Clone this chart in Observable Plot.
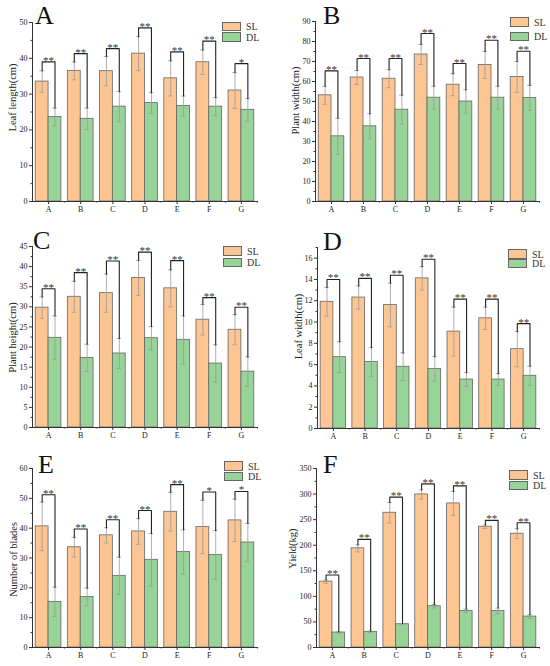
<!DOCTYPE html>
<html><head><meta charset="utf-8">
<script src="https://cdn.jsdelivr.net/npm/d3@7"></script>
<script src="https://cdn.jsdelivr.net/npm/@observablehq/plot@0.6"></script>
<style>
body{margin:0;background:#fff;}
#fig{position:relative;width:550px;height:666px;font-family:"Liberation Serif",serif;overflow:hidden;}
.panel{position:absolute;width:275px;height:222px;}
.panel svg{position:absolute;left:0;top:0;}
.letter{position:absolute;font-size:26px;line-height:26px;color:#111;}
.sw{position:absolute;width:19px;box-sizing:border-box;border:1px solid #666;}
.lt{position:absolute;font-size:10px;line-height:10px;color:#333;}
</style></head><body><div id="fig"></div>
<script>
const categories = ["A","B","C","D","E","F","G"];
const seriesNames = ["SL","DL"];
const SL_COLOR = "#fcc592";
const DL_COLOR = "#98d398";

// Panel A: Leaf length
const leafLengthSL = [33.5, 36.5, 36.4, 41.3, 34.4, 38.9, 31.0];
const leafLengthSLsd = [3.0, 2.5, 4.1, 4.75, 4.9, 3.4, 5.0];
const leafLengthDL = [23.6, 23.1, 26.5, 27.5, 26.7, 26.5, 25.6];
const leafLengthDLsd = [2.5, 3.0, 4.2, 2.9, 2.75, 2.5, 3.15];
const leafLengthBracket = [39.0, 41.3, 42.7, 48.5, 41.8, 44.8, 38.5];
const leafLengthSig = ["**","**","**","**","**","**","*"];
const leafLengthTicks = [0, 10, 20, 30, 40, 50];

// Panel B: Plant width
const plantWidthSL = [53.1, 62.0, 61.4, 73.5, 58.4, 68.3, 62.3];
const plantWidthSLsd = [4.5, 3.5, 4.5, 5.0, 5.5, 6.75, 7.75];
const plantWidthDL = [32.6, 37.6, 45.9, 51.9, 50.0, 51.9, 51.8];
const plantWidthDLsd = [9.0, 6.25, 7.25, 5.75, 5.85, 5.75, 6.25];
const plantWidthBracket = [65.3, 71.5, 71.5, 84.0, 69.0, 80.6, 75.1];
const plantWidthSig = ["**","**","**","**","**","**","**"];
const plantWidthTicks = [0, 10, 20, 30, 40, 50, 60, 70, 80, 90];

// Panel C: Plant height
const plantHeightSL = [29.8, 32.5, 33.4, 37.2, 34.6, 26.8, 24.3];
const plantHeightSLsd = [2.65, 3.85, 4.75, 4.35, 4.6, 3.8, 3.75];
const plantHeightDL = [22.3, 17.3, 18.4, 22.2, 21.8, 15.9, 13.9];
const plantHeightDLsd = [5.45, 3.4, 3.75, 2.9, 5.95, 4.65, 3.65];
const plantHeightBracket = [34.5, 38.5, 41.4, 43.6, 41.5, 32.3, 29.9];
const plantHeightSig = ["**","**","**","**","**","**","**"];
const plantHeightTicks = [0, 5, 10, 15, 20, 25, 30, 35, 40, 45];

// Panel D: Leaf width
const leafWidthSL = [11.9, 12.3, 11.6, 14.1, 9.1, 10.35, 7.45];
const leafWidthSLsd = [1.35, 1.1, 2.05, 1.1, 2.3, 1.05, 1.65];
const leafWidthDL = [6.7, 6.25, 5.8, 5.6, 4.6, 4.6, 4.95];
const leafWidthDLsd = [1.45, 1.35, 1.3, 1.15, 0.65, 0.55, 0.9];
const leafWidthBracket = [14.0, 14.1, 14.4, 15.9, 12.15, 12.15, 9.85];
const leafWidthSig = ["**","**","**","**","**","**","**"];
const leafWidthTicks = [0, 2, 4, 6, 8, 10, 12, 14, 16];

// Panel E: Number of blades
const bladesSL = [40.6, 33.6, 37.6, 38.9, 45.5, 40.4, 42.6];
const bladesSLsd = [8.15, 3.3, 2.55, 4.3, 6.5, 8.95, 7.1];
const bladesDL = [15.3, 16.9, 24.0, 29.4, 32.0, 31.0, 35.2];
const bladesDLsd = [4.9, 3.0, 6.25, 8.8, 7.45, 8.2, 6.4];
const bladesBracket = [51.2, 39.7, 42.8, 45.9, 54.6, 52.1, 52.3];
const bladesSig = ["**","**","**","**","**","*","*"];
const bladesTicks = [0, 10, 20, 30, 40, 50, 60];

// Panel F: Yield
const yieldSL = [128.8, 193.9, 263.5, 299.3, 281.7, 236.2, 222.5];
const yieldSLsd = [3, 7, 20, 9, 23.5, 3.5, 9.5];
const yieldDL = [29.3, 30.6, 45.5, 80.7, 71.6, 71.6, 60.5];
const yieldDLsd = [1.5, 1.5, 1.5, 3.5, 3.5, 5.5, 3.5];
const yieldBracket = [141.8, 211.5, 294, 320, 316, 248.5, 244];
const yieldSig = ["**","**","**","**","**","**","**"];
const yieldTicks = [0, 50, 100, 150, 200, 250, 300, 350];

const panels = [
  {letter:"A", label:"Leaf length(cm)", sl:leafLengthSL, slsd:leafLengthSLsd, dl:leafLengthDL, dlsd:leafLengthDLsd, br:leafLengthBracket, sig:leafLengthSig, ticks:leafLengthTicks, max:50,
   left:0, top:0, ml:32, mr:18, mt:22, mb:21, lx:12, ly:97, letX:35, letY:3, legX:222, legY:21.7, legGap:1},
  {letter:"B", label:"Plant width(cm)", sl:plantWidthSL, slsd:plantWidthSLsd, dl:plantWidthDL, dldsd:null, dlsd:plantWidthDLsd, br:plantWidthBracket, sig:plantWidthSig, ticks:plantWidthTicks, max:90,
   left:275, top:0, ml:40, mr:11, mt:21, mb:21, lx:20, ly:100, letX:48, letY:3, legX:235, legY:17, legGap:5},
  {letter:"C", label:"Plant height(cm)", sl:plantHeightSL, slsd:plantHeightSLsd, dl:plantHeightDL, dlsd:plantHeightDLsd, br:plantHeightBracket, sig:plantHeightSig, ticks:plantHeightTicks, max:45,
   left:0, top:222, ml:32, mr:18, mt:24, mb:17, lx:12, ly:115, letX:33, letY:6, legX:223, legY:24, legGap:2},
  {letter:"D", label:"Leaf width(cm)", sl:leafWidthSL, slsd:leafWidthSLsd, dl:leafWidthDL, dlsd:leafWidthDLsd, br:leafWidthBracket, sig:leafWidthSig, ticks:leafWidthTicks, max:17,
   left:275, top:222, ml:42, mr:11, mt:25, mb:16, lx:23, ly:104, letX:48, letY:7, legX:233, legY:27, legGap:0},
  {letter:"E", label:"Number of blades", sl:bladesSL, slsd:bladesSLsd, dl:bladesDL, dlsd:bladesDLsd, br:bladesBracket, sig:bladesSig, ticks:bladesTicks, max:60,
   left:0, top:444, ml:32, mr:18, mt:24, mb:19, lx:13, ly:115, letX:38, letY:8, legX:224, legY:17, legGap:1},
  {letter:"F", label:"Yield(kg)", sl:yieldSL, slsd:yieldSLsd, dl:yieldDL, dlsd:yieldDLsd, br:yieldBracket, sig:yieldSig, ticks:yieldTicks, max:350,
   left:275, top:444, ml:41, mr:11, mt:24, mb:19, lx:17, ly:104, letX:48, letY:8, legX:234, legY:26, legGap:1}
];

const fig = document.getElementById("fig");
const BW = 0.4; // bar width in category units

for (const p of panels) {
  const rows = categories.map((c, i) => ({
    cat: c, i,
    sl: p.sl[i], slTop: p.sl[i] + p.slsd[i], slLow: p.sl[i] - p.slsd[i],
    dl: p.dl[i], dlTop: p.dl[i] + p.dlsd[i], dlLow: p.dl[i] - p.dlsd[i],
    br: p.br[i], sig: p.sig[i]
  }));
  const bracket = rows.flatMap(r => [
    {cat: r.cat, x: r.i - BW/2, y: r.slTop},
    {cat: r.cat, x: r.i - BW/2, y: r.br},
    {cat: r.cat, x: r.i + BW/2, y: r.br},
    {cat: r.cat, x: r.i + BW/2, y: r.dlTop}
  ]);
  const step = p.ticks[1] - p.ticks[0];
  const minor = p.ticks.slice(0, -1).map(t => t + step/2).concat(p.ticks[p.ticks.length-1] + step/2 <= p.max ? [p.ticks[p.ticks.length-1] + step/2] : []);
  const xMajor = categories.map((c, i) => i);
  const xMinor = categories.map((c, i) => i + 0.5);
  const errStroke = "#9a9a9a";
  const cap = 0.07;

  const chart = Plot.plot({
    width: 275, height: 222,
    marginLeft: p.ml, marginRight: p.mr, marginTop: p.mt, marginBottom: p.mb,
    style: {fontFamily: "'Liberation Serif', serif", fontSize: "8px", color: "#222", background: "transparent", overflow: "visible"},
    x: {domain: [-0.5, 6.5]},
    y: {domain: [0, p.max]},
    marks: [
      Plot.rectY(rows, {x1: d => d.i - BW, x2: d => d.i, y: "sl", fill: SL_COLOR, stroke: "#666", strokeWidth: 0.8}),
      Plot.rectY(rows, {x1: d => d.i, x2: d => d.i + BW, y: "dl", fill: DL_COLOR, stroke: "#666", strokeWidth: 0.8}),
      Plot.ruleX(rows, {x: d => d.i - BW/2, y1: "slLow", y2: "slTop", stroke: errStroke, strokeWidth: 0.8}),
      Plot.ruleX(rows, {x: d => d.i + BW/2, y1: "dlLow", y2: "dlTop", stroke: errStroke, strokeWidth: 0.8}),
      Plot.ruleY(rows, {y: "slTop", x1: d => d.i - BW/2 - cap, x2: d => d.i - BW/2 + cap, stroke: errStroke, strokeWidth: 0.8}),
      Plot.ruleY(rows, {y: "slLow", x1: d => d.i - BW/2 - cap, x2: d => d.i - BW/2 + cap, stroke: errStroke, strokeWidth: 0.8}),
      Plot.ruleY(rows, {y: "dlTop", x1: d => d.i + BW/2 - cap, x2: d => d.i + BW/2 + cap, stroke: errStroke, strokeWidth: 0.8}),
      Plot.ruleY(rows, {y: "dlLow", x1: d => d.i + BW/2 - cap, x2: d => d.i + BW/2 + cap, stroke: errStroke, strokeWidth: 0.8}),
      Plot.line(bracket, {x: "x", y: "y", z: "cat", stroke: "#222", strokeWidth: 1.1}),
      Plot.text(rows, {x: "i", y: "br", text: "sig", lineAnchor: "bottom", dy: 2, fontSize: 11, fill: "#333"}),
      Plot.ruleY([0], {stroke: "#333", strokeWidth: 1}),
      Plot.ruleX([-0.5], {stroke: "#333", strokeWidth: 1}),
      Plot.axisY({ticks: p.ticks, tickSize: 3, tickPadding: 2, fontSize: 8, label: null, stroke: "#333"}),
      Plot.axisY({ticks: minor, tickSize: 1.5, tickFormat: () => "", label: null, stroke: "#333"}),
      Plot.axisX({ticks: xMajor, tickFormat: i => categories[i], tickSize: 3, tickPadding: 2, fontSize: 8, label: null, stroke: "#333"}),
      Plot.axisX({ticks: xMinor, tickSize: 1.5, tickFormat: () => "", label: null, stroke: "#333"}),
      Plot.text([p.label], {frameAnchor: "top-left", textAnchor: "middle", lineAnchor: "middle", rotate: -90, dx: p.lx - p.ml, dy: p.ly - p.mt, fontSize: 10.5, fill: "#222"})
    ]
  });

  const div = document.createElement("div");
  div.className = "panel";
  div.style.left = p.left + "px";
  div.style.top = p.top + "px";
  div.appendChild(chart);

  const let_ = document.createElement("div");
  let_.className = "letter";
  let_.textContent = p.letter;
  let_.style.left = p.letX + "px";
  let_.style.top = p.letY + "px";
  div.appendChild(let_);

  seriesNames.forEach((s, k) => {
    const y0 = p.legY + k * (9.5 + p.legGap);
    const sw = document.createElement("div");
    sw.className = "sw";
    sw.style.left = p.legX + "px";
    sw.style.top = y0 + "px";
    sw.style.height = "9.5px";
    sw.style.background = k === 0 ? SL_COLOR : DL_COLOR;
    div.appendChild(sw);
    const t = document.createElement("div");
    t.className = "lt";
    t.textContent = s;
    t.style.left = (p.legX + 24) + "px";
    t.style.top = (y0 + 0.5) + "px";
    div.appendChild(t);
  });

  fig.appendChild(div);
}
</script>
</body></html>
